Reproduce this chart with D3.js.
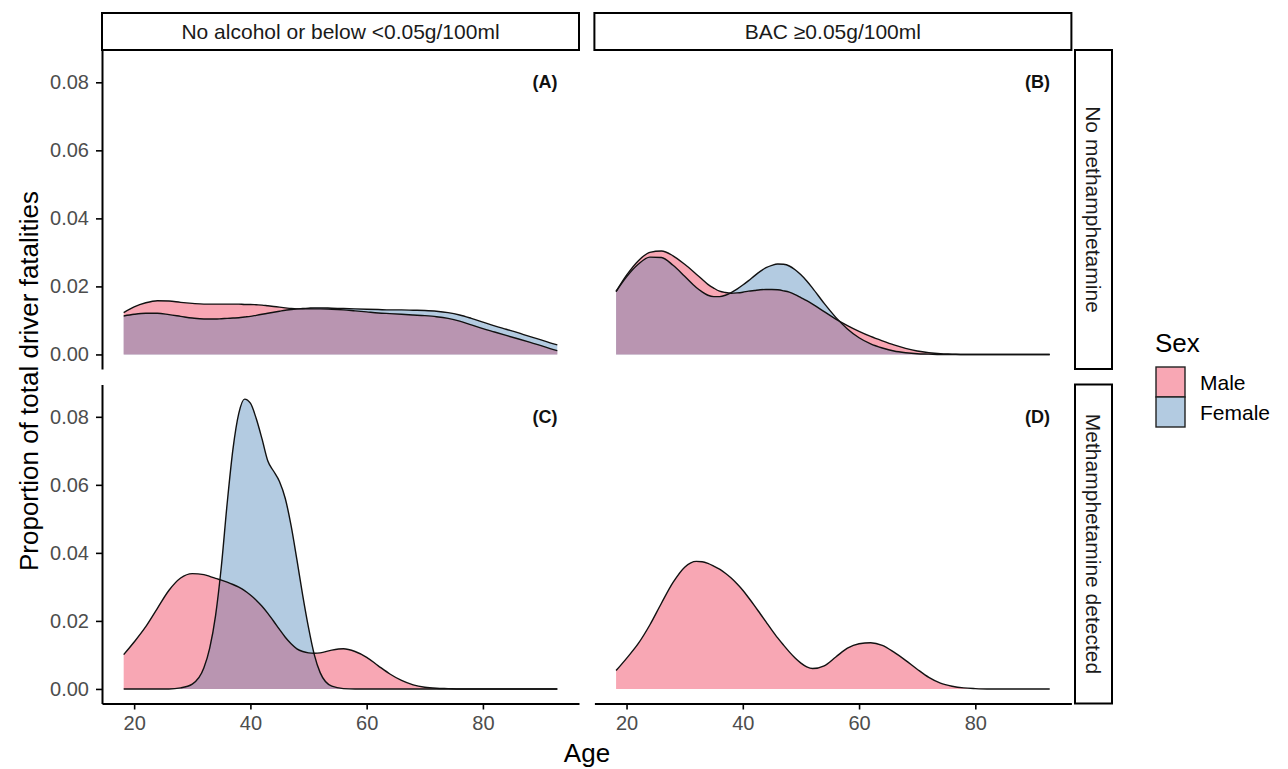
<!DOCTYPE html>
<html><head><meta charset="utf-8">
<script src="https://cdn.jsdelivr.net/npm/d3@7"></script>
<style>
body{margin:0;background:#fff}
text{font-family:"Liberation Sans",Arial,Helvetica,sans-serif}
</style>
</head><body>
<svg id="chart" width="1288" height="769"></svg>
<script>
// ---------------- data ----------------
const ages = [18.2,20,22,24,26,28,30,32,33,34,35,36,37,38,39,40,41,42,43,44,45,46,47,48,49,50,51,52,54,56,58,60,62,64,66,68,70,72,74,76,78,80,82,84,86,88,90,92,92.8];

// (A) No alcohol, no methamphetamine
const maleA = [.0123,.0140,.0152,.0158,.0157,.0153,.0150,.0148,.0148,.0148,.0148,.0148,.0148,.0148,.0147,.0147,.0146,.0145,.0143,.0141,.0139,.0137,.0135,.0134,.0134,.0134,.0134,.0134,.0133,.0131,.0128,.0125,.0122,.0120,.0118,.0116,.0114,.0111,.0106,.0098,.0087,.0076,.0066,.0056,.0046,.0036,.0026,.0015,.0011];
const femaleA = [.0113,.0118,.0121,.0121,.0117,.0112,.0107,.0104,.0104,.0104,.0105,.0106,.0107,.0108,.0110,.0112,.0115,.0118,.0121,.0124,.0127,.0130,.0132,.0134,.0135,.0136,.0137,.0137,.0136,.0135,.0134,.0133,.0132,.0131,.0131,.0130,.0129,.0127,.0123,.0116,.0106,.0095,.0084,.0074,.0064,.0053,.0043,.0032,.0028];

// (B) BAC >= 0.05, no methamphetamine
const maleB = [.0185,.0233,.0275,.0300,.0304,.0290,.0265,.0236,.0221,.0206,.0195,.0186,.0182,.0180,.0181,.0183,.0186,.0188,.0190,.0191,.0191,.0190,.0187,.0183,.0176,.0167,.0158,.0148,.0126,.0104,.0085,.0068,.0053,.0040,.0028,.0018,.0010,.0005,.0002,.0001,0,0,0,0,0,0,0,0,0];
const femaleB = [.0185,.0228,.0265,.0286,.0285,.0262,.0230,.0197,.0184,.0174,.0170,.0170,.0174,.0182,.0192,.0204,.0217,.0231,.0244,.0255,.0262,.0266,.0265,.0260,.0249,.0234,.0216,.0195,.0150,.0109,.0075,.0049,.0031,.0019,.0010,.0005,.0002,.0001,0,0,0,0,0,0,0,0,0,0,0];

// (C) No alcohol, methamphetamine detected
const maleC = [.0101,.0138,.0183,.0237,.0290,.0326,.0339,.0336,.0331,.0325,.0320,.0314,.0307,.0299,.0289,.0276,.0261,.0243,.0222,.0199,.0175,.0152,.0133,.0118,.0110,.0106,.0105,.0106,.0114,.0118,.0110,.0093,.0068,.0044,.0025,.0012,.0005,.0002,.0001,0,0,0,0,0,0,0,0,0,0];
const femaleC = [0,0,0,0,0,.0003,.0014,.0062,.0120,.0215,.0360,.0545,.0705,.0810,.0852,.0840,.0795,.0735,.0670,.0640,.0610,.0560,.0480,.0380,.0275,.0180,.0100,.0048,.0008,.0001,0,0,0,0,0,0,0,0,0,0,0,0,0,0,0,0,0,0,0];

// (D) BAC >= 0.05, methamphetamine detected (no female cases)
const maleD = [.0054,.0090,.0133,.0188,.0252,.0313,.0358,.0375,.0374,.0369,.0361,.0352,.0340,.0326,.0309,.0290,.0268,.0245,.0221,.0197,.0173,.0150,.0129,.0109,.0091,.0076,.0065,.0060,.0068,.0094,.0120,.0133,.0136,.0128,.0108,.0084,.0058,.0034,.0017,.0008,.0003,.0001,0,0,0,0,0,0,0];
const femaleD = null;

const colLabels = ["No alcohol or below <0.05g/100ml", "BAC \u22650.05g/100ml"];
const rowLabels = ["No methamphetamine", "Methamphetamine detected"];
const panelTags = ["(A)", "(B)", "(C)", "(D)"];
const sexes = ["Male", "Female"];
const xTicks = [20, 40, 60, 80];
const yTicks = [0, 0.02, 0.04, 0.06, 0.08];

// ---------------- layout ----------------
const colors = {Male: "#F8A7B4", Female: "#B3CBE1", overlap: "#B995B1"};
const colX = [102, 594.4], panelW = 477;
const rowY = [50, 384.5], panelH = 319;
const FONT = '"Liberation Sans",Arial,sans-serif';

const svg = d3.select("#chart");
const x = d3.scaleLinear().domain([14.47, 96.53]).range([0, panelW]);
const y = d3.scaleLinear().domain([-0.00428, 0.0895]).range([panelH, 0]);

const panels = [
  {r:0, c:0, m: maleA, f: femaleA, tag: panelTags[0]},
  {r:0, c:1, m: maleB, f: femaleB, tag: panelTags[1]},
  {r:1, c:0, m: maleC, f: femaleC, tag: panelTags[2]},
  {r:1, c:1, m: maleD, f: femaleD, tag: panelTags[3]},
];

const area = d3.area().x((d,i)=>x(ages[i])).y0(y(0)).y1(d=>y(d)).curve(d3.curveMonotoneX);
const line = d3.line().x((d,i)=>x(ages[i])).y(d=>y(d)).curve(d3.curveMonotoneX);

panels.forEach((p, k) => {
  const g = svg.append("g").attr("transform", `translate(${colX[p.c]},${rowY[p.r]})`);
  g.append("path").attr("d", area(p.m)).attr("fill", colors.Male);
  if (p.f) {
    g.append("path").attr("d", area(p.f)).attr("fill", colors.Female);
    const cid = "clipF" + k;
    g.append("clipPath").attr("id", cid).append("path").attr("d", area(p.f));
    g.append("path").attr("d", area(p.m)).attr("fill", colors.overlap).attr("clip-path", `url(#${cid})`);
  }
  g.append("path").attr("d", line(p.m)).attr("fill", "none").attr("stroke", "#111").attr("stroke-width", 1.4);
  if (p.f) g.append("path").attr("d", line(p.f)).attr("fill", "none").attr("stroke", "#111").attr("stroke-width", 1.4);
  g.append("text").attr("x", x(90.7)).attr("y", y(0.08)).attr("text-anchor", "middle")
    .attr("dominant-baseline", "central").attr("font-weight", "bold").attr("font-size", 18).attr("fill", "#111").text(p.tag);

  if (p.c === 0) {
    const ax = g.append("g").call(d3.axisLeft(y).tickValues(yTicks).tickFormat(d3.format(".2f")).tickSize(6).tickPadding(7).tickSizeOuter(0));
    ax.select(".domain").attr("stroke", "#000").attr("stroke-width", 2);
    ax.selectAll(".tick line").attr("stroke", "#000").attr("stroke-width", 1.6);
    ax.selectAll(".tick text").attr("font-size", 20).attr("fill", "#4D4D4D").style("font-family", FONT);
  }
  if (p.r === 1) {
    const ax = g.append("g").attr("transform", `translate(0,${panelH})`)
      .call(d3.axisBottom(x).tickValues(xTicks).tickFormat(d3.format("d")).tickSize(6).tickPadding(6).tickSizeOuter(0));
    ax.select(".domain").attr("stroke", "#000").attr("stroke-width", 2);
    ax.selectAll(".tick line").attr("stroke", "#000").attr("stroke-width", 1.6);
    ax.selectAll(".tick text").attr("font-size", 20).attr("fill", "#4D4D4D").style("font-family", FONT);
  }
});

// column strips
colLabels.forEach((lab, c) => {
  svg.append("rect").attr("x", colX[c]).attr("y", 13).attr("width", panelW).attr("height", 37)
    .attr("fill", "#fff").attr("stroke", "#000").attr("stroke-width", 2);
  svg.append("text").attr("x", colX[c] + panelW/2).attr("y", 31.5).attr("text-anchor", "middle")
    .attr("dominant-baseline", "central").attr("font-size", 21).attr("fill", "#1A1A1A").text(lab);
});
// row strips
rowLabels.forEach((lab, r) => {
  svg.append("rect").attr("x", 1075).attr("y", rowY[r]).attr("width", 37).attr("height", panelH)
    .attr("fill", "#fff").attr("stroke", "#000").attr("stroke-width", 2);
  svg.append("text").attr("transform", `translate(1093.5,${rowY[r] + panelH/2}) rotate(90)`)
    .attr("text-anchor", "middle").attr("dominant-baseline", "central").attr("font-size", 21).attr("fill", "#1A1A1A").text(lab);
});

// axis titles
svg.append("text").attr("x", 587).attr("y", 753).attr("text-anchor", "middle").attr("dominant-baseline", "central")
  .attr("font-size", 26).attr("fill", "#000").text("Age");
svg.append("text").attr("transform", "translate(29,381) rotate(-90)").attr("text-anchor", "middle").attr("dominant-baseline", "central")
  .attr("font-size", 26).attr("fill", "#000").text("Proportion of total driver fatalities");

// legend
const lg = svg.append("g");
lg.append("text").attr("x", 1155).attr("y", 343).attr("dominant-baseline", "central").attr("font-size", 26).attr("fill", "#000").text("Sex");
sexes.forEach((s, i) => {
  lg.append("rect").attr("x", 1156).attr("y", 367 + i*30).attr("width", 29).attr("height", 30)
    .attr("fill", colors[s]).attr("stroke", "#222").attr("stroke-width", 1.4);
  lg.append("text").attr("x", 1200).attr("y", 382 + i*30).attr("dominant-baseline", "central")
    .attr("font-size", 21).attr("fill", "#000").text(s);
});
</script>
</body></html>
